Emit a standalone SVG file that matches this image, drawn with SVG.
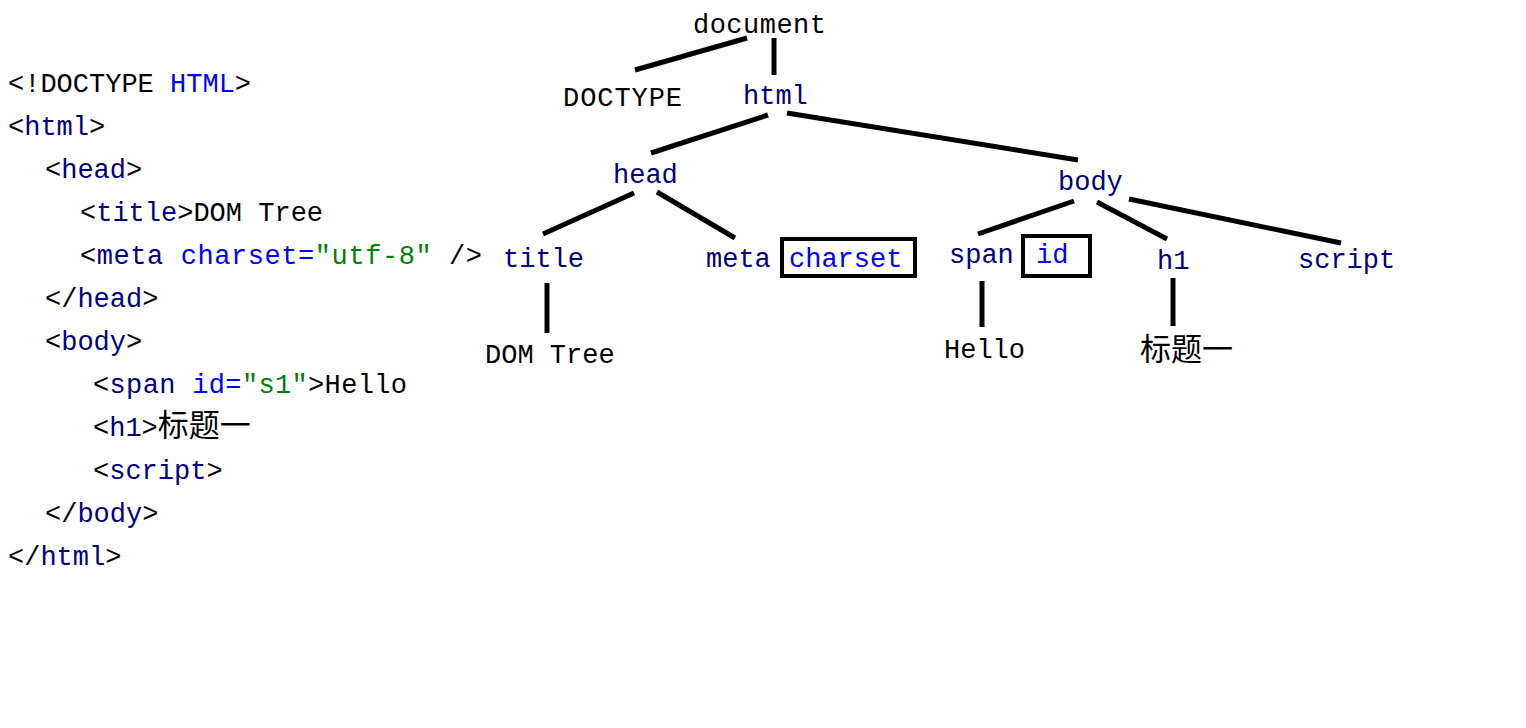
<svg xmlns="http://www.w3.org/2000/svg" width="1526" height="728" viewBox="0 0 1526 728">
<style>
text{font-family:"Liberation Mono","Noto Sans CJK SC",monospace;font-size:27px;fill:#000}
.tag{fill:#000080}
.attr{fill:#0000ff}
.val{fill:#008000}
.cjk{font-size:31px;font-family:"Noto Sans CJK SC",sans-serif}
.edge{stroke:#000;stroke-width:5;fill:none}
.box{stroke:#000;stroke-width:4;fill:none}
</style>
<rect width="1526" height="728" fill="#fff"/>
<g id="code">
<text x="8" y="92">&lt;!DOCTYPE <tspan class="attr">HTML</tspan>&gt;</text>
<text x="8" y="135">&lt;<tspan class="tag">html</tspan>&gt;</text>
<text x="45" y="178">&lt;<tspan class="tag">head</tspan>&gt;</text>
<text x="80" y="221">&lt;<tspan class="tag">title</tspan>&gt;DOM Tree</text>
<text x="80" y="264" textLength="402" lengthAdjust="spacing">&lt;<tspan class="tag">meta</tspan> <tspan class="attr">charset=</tspan><tspan class="val">"utf-8"</tspan> /&gt;</text>
<text x="45" y="307">&lt;/<tspan class="tag">head</tspan>&gt;</text>
<text x="45" y="350">&lt;<tspan class="tag">body</tspan>&gt;</text>
<text x="93" y="393" textLength="314" lengthAdjust="spacing">&lt;<tspan class="tag">span</tspan> <tspan class="attr">id=</tspan><tspan class="val">"s1"</tspan>&gt;Hello</text>
<text x="93" y="436">&lt;<tspan class="tag">h1</tspan>&gt;<tspan class="cjk">标题一</tspan></text>
<text x="93" y="479">&lt;<tspan class="tag">script</tspan>&gt;</text>
<text x="45" y="522">&lt;/<tspan class="tag">body</tspan>&gt;</text>
<text x="8" y="565">&lt;/<tspan class="tag">html</tspan>&gt;</text>
</g>
<g id="connectors">
<line class="edge" x1="747" y1="38" x2="635" y2="70"/>
<line class="edge" x1="774" y1="38" x2="774" y2="75"/>
<line class="edge" x1="768" y1="115" x2="651" y2="153"/>
<line class="edge" x1="787" y1="113" x2="1078" y2="160"/>
<line class="edge" x1="634" y1="193" x2="543" y2="234"/>
<line class="edge" x1="657" y1="192" x2="735" y2="238"/>
<line class="edge" x1="547" y1="283" x2="547" y2="333"/>
<line class="edge" x1="1074" y1="201" x2="978" y2="234"/>
<line class="edge" x1="1097" y1="202" x2="1167" y2="239"/>
<line class="edge" x1="1129" y1="199" x2="1341" y2="243"/>
<line class="edge" x1="982" y1="281" x2="982" y2="327"/>
<line class="edge" x1="1173" y1="278" x2="1173" y2="326"/>
</g>
<g id="node-document"><text x="693" y="33" textLength="133" lengthAdjust="spacing">document</text></g>
<g id="node-doctype"><text x="563" y="106" textLength="119" lengthAdjust="spacing">DOCTYPE</text></g>
<g id="node-html"><text class="tag" x="743" y="104">html</text></g>
<g id="node-head"><text class="tag" x="613" y="183">head</text></g>
<g id="node-body"><text class="tag" x="1058" y="190">body</text></g>
<g id="node-title"><text class="tag" x="503" y="267">title</text></g>
<g id="node-meta"><text class="tag" x="706" y="267">meta</text></g>
<g id="node-charset"><rect class="box" x="782" y="239" width="133" height="37"/><text class="attr" x="789" y="267">charset</text></g>
<g id="node-span"><text class="tag" x="949" y="263">span</text></g>
<g id="node-id"><rect class="box" x="1023" y="236" width="67" height="40"/><text class="attr" x="1036" y="263">id</text></g>
<g id="node-h1"><text class="tag" x="1157" y="269">h1</text></g>
<g id="node-script"><text class="tag" x="1298" y="268">script</text></g>
<g id="node-domtree"><text x="485" y="363">DOM Tree</text></g>
<g id="node-hello"><text x="944" y="358">Hello</text></g>
<g id="node-heading"><text class="cjk" x="1140" y="360">标题一</text></g>
</svg>
